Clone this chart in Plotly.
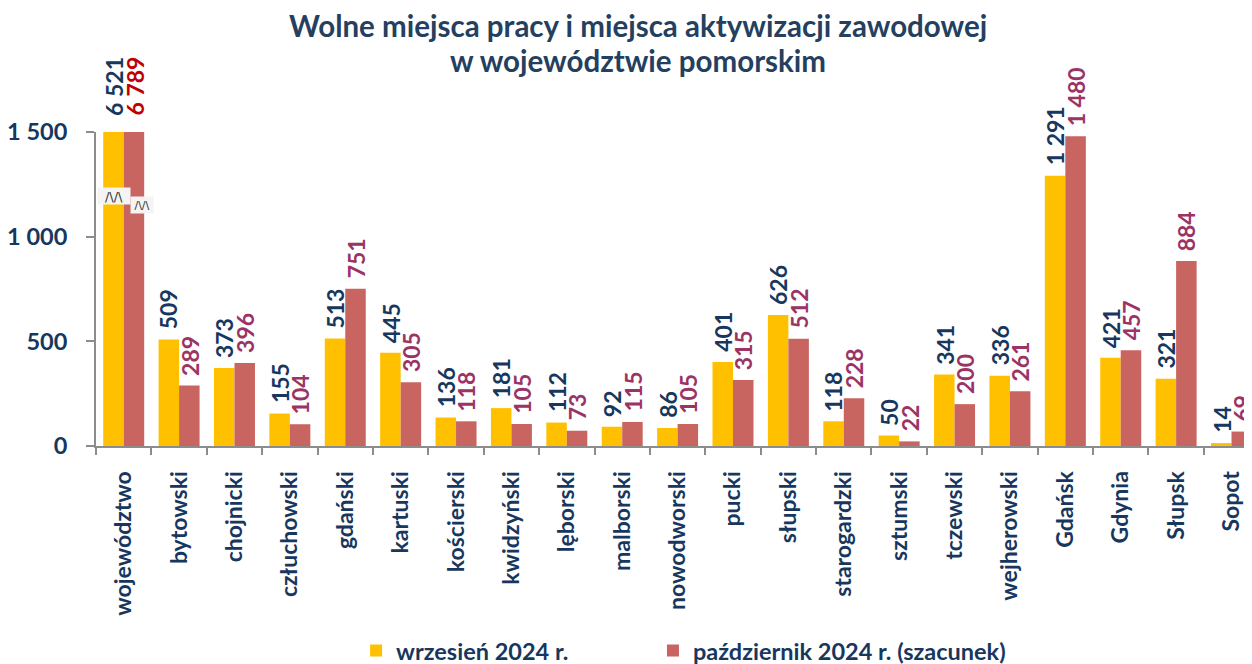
import plotly.graph_objects as go

categories = ["województwo", "bytowski", "chojnicki", "człuchowski", "gdański", "kartuski",
              "kościerski", "kwidzyński", "lęborski", "malborski", "nowodworski", "pucki",
              "słupski", "starogardzki", "sztumski", "tczewski", "wejherowski", "Gdańsk",
              "Gdynia", "Słupsk", "Sopot"]
wrzesien = [6521, 509, 373, 155, 513, 445, 136, 181, 112, 92, 86, 401, 626, 118, 50, 341, 336,
            1291, 421, 321, 14]
pazdziernik = [6789, 289, 396, 104, 751, 305, 118, 105, 73, 115, 105, 315, 512, 228, 22, 200,
               261, 1480, 457, 884, 69]
series_names = ["wrzesień 2024 r.", "październik 2024 r. (szacunek)"]
title_lines = ["Wolne miejsca pracy i miejsca aktywizacji zawodowej", "w województwie pomorskim"]
y_ticks = [0, 500, 1000, 1500]
y_max = 1500

FONT = "Lato"
NAVY = "#17375E"
TITLE_C = "#243F60"
MAROON = "#9B3365"
RED = "#C00000"
YELLOW = "#FFC000"
BRICK = "#C96561"
GRAY = "#8C8C8C"


def fmt(v):
    return f"{v:,}".replace(",", " ")


fig = go.Figure()
for name, vals, col, lg in [(series_names[0], wrzesien, YELLOW, "legend"),
                            (series_names[1], pazdziernik, BRICK, "legend2")]:
    fig.add_trace(go.Bar(
        x=categories, y=[min(v, y_max) for v in vals], name=name, legend=lg,
        marker=dict(color=col, line=dict(width=0)),
        hoverinfo="x+name+text", hovertext=[fmt(v) for v in vals],
    ))

annotations = []
half = 10.3
for i, cat in enumerate(categories):
    for vals, off, col in [(wrzesien, -half, NAVY), (pazdziernik, half, MAROON)]:
        v = vals[i]
        c = col
        shift = 8
        if v > y_max:
            shift = 14
            if vals is pazdziernik:
                c = RED
        annotations.append(dict(
            x=cat, y=min(v, y_max), xref="x", yref="y", text=fmt(v), textangle=-90,
            showarrow=False, xanchor="center", yanchor="bottom", xshift=off, yshift=shift,
            font=dict(family=FONT, size=23, color=c, weight="bold"),
        ))

# axis break markers on the clipped bars
annotations.append(dict(x=categories[0], y=1194, xref="x", yref="y", text="/\\/\\", showarrow=False,
                        xshift=-9.7, bgcolor="#F4F4F4", borderpad=1, width=30, height=14,
                        font=dict(family="DejaVu Sans", size=13, color="#333333")))
annotations.append(dict(x=categories[0], y=1151, xref="x", yref="y", text="/\\/\\", showarrow=False,
                        xshift=18, bgcolor="#F4F4F4", borderpad=1, width=20, height=14,
                        font=dict(family="DejaVu Sans", size=11, color="#333333")))

# title lines
for txt, yy in zip(title_lines, [1.3376, 1.229]):
    annotations.append(dict(x=0.469, y=yy, xref="paper", yref="paper", text=txt, showarrow=False,
                            xanchor="center", yanchor="middle",
                            font=dict(family=FONT, size=29.5, color=TITLE_C, weight="bold")))

legend_common = dict(orientation="h", yanchor="middle", y=-0.652, xanchor="left",
                     font=dict(family=FONT, size=23.5, color=NAVY, weight="bold"),
                     itemwidth=30, bgcolor="rgba(0,0,0,0)")

fig.update_layout(
    template="none",
    width=1244, height=656,
    margin=dict(l=88, r=0, t=124, b=218, autoexpand=False),
    paper_bgcolor="white", plot_bgcolor="white",
    barmode="group", bargap=0.26, bargroupgap=0,
    font=dict(family=FONT, color=NAVY),
    showlegend=True,
    legend=dict(x=0.225, **legend_common),
    legend2=dict(x=0.4818, **legend_common),
    annotations=annotations,
    xaxis=dict(type="category", range=[-0.5, 20.37], tickson="boundaries", ticks="outside",
               ticklen=7, tickwidth=2, tickcolor=GRAY, showline=True, linecolor=GRAY, linewidth=2,
               tickangle=-90, showgrid=False, zeroline=False, automargin=False,
               ticklabelstandoff=14,
               tickfont=dict(family=FONT, size=23, color=NAVY, weight="bold")),
    yaxis=dict(range=[0, y_max], tickvals=y_ticks, ticktext=[fmt(t) for t in y_ticks],
               ticks="outside", ticklen=8, tickwidth=2, tickcolor=GRAY, showline=True,
               linecolor=GRAY, linewidth=2, showgrid=False, zeroline=False, automargin=False,
               ticklabelstandoff=14,
               tickfont=dict(family=FONT, size=23.5, color=NAVY, weight="bold")),
)

fig.write_html("out.html")
